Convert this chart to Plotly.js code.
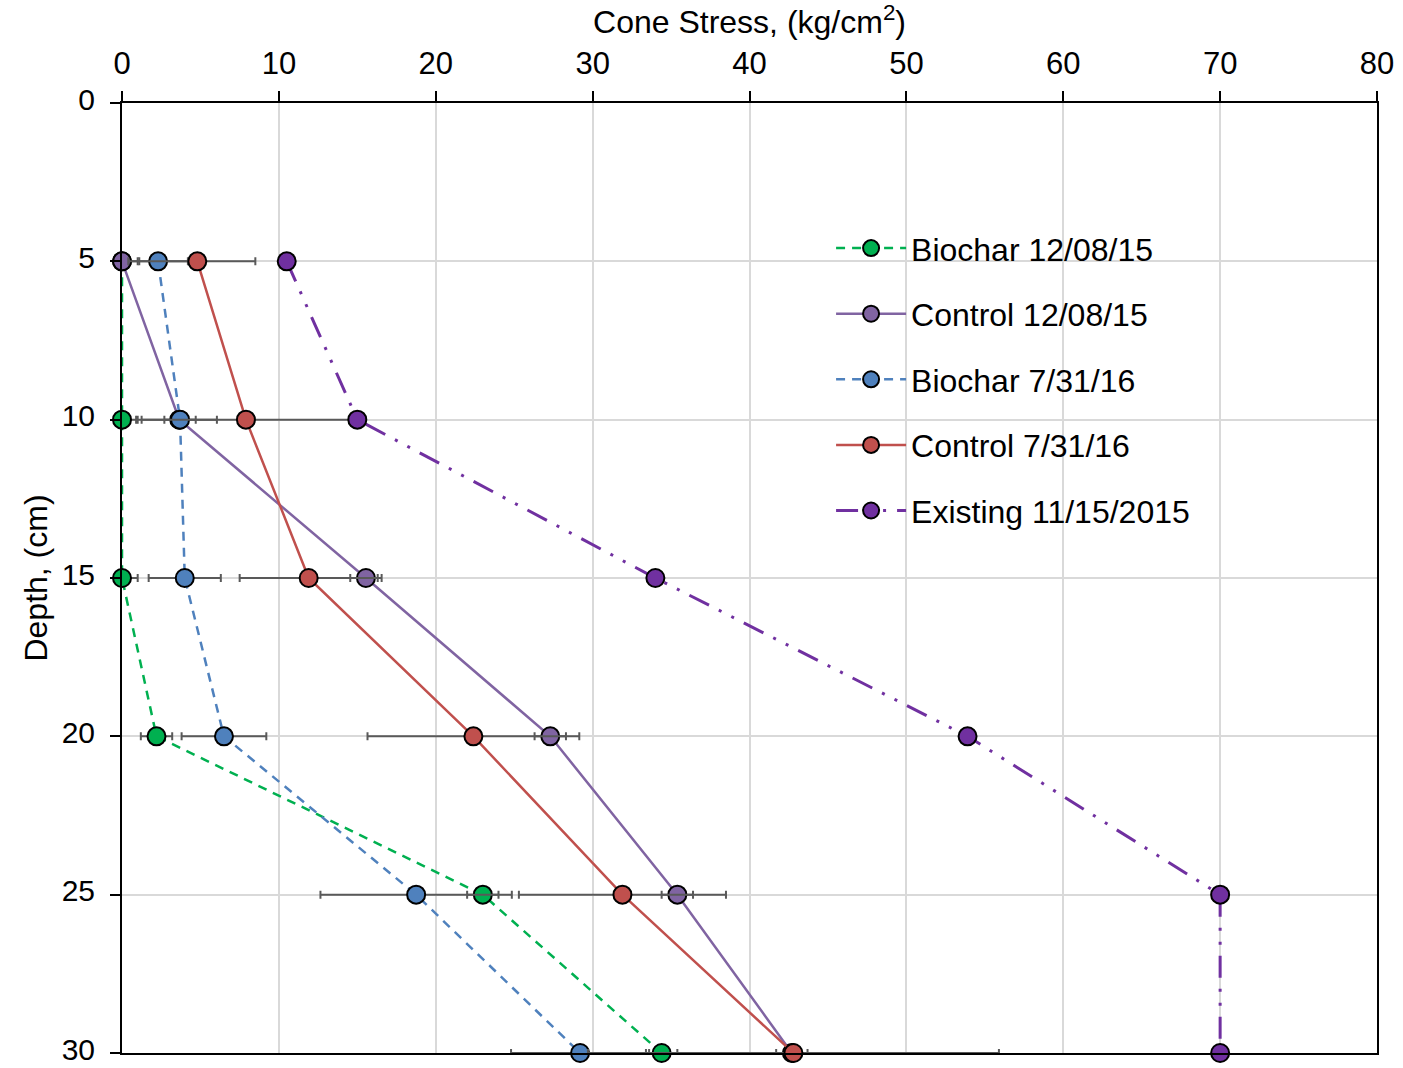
<!DOCTYPE html>
<html>
<head>
<meta charset="utf-8">
<script src="https://cdn.plot.ly/plotly-3.0.1.min.js"></script>
<style>html,body{margin:0;padding:0;background:#fff;}#chart{width:1403px;height:1068px;}</style>
</head>
<body>
<div id="chart"></div>
<script>
// Depth (cm)
var depth = [5, 10, 15, 20, 25, 30];

// Cone stress (kg/cm2) values and error (±)
var biochar1208 = [0, 0, 0, 2.2, 23.0, 34.4];
var biochar1208Err = [1.0, 1.0, 1.0, 1.0, 1.0, 1.0];

var control1208 = [0, 3.65, 15.55, 27.3, 35.4, 42.7];
var control1208Err = [0, 2.4, 1.0, 1.0, 1.0, 1.0];

var biochar0731 = [2.3, 3.7, 4.0, 6.5, 18.75, 29.2];
var biochar0731Err = [1.9, 1.0, 2.3, 2.7, 6.1, 4.4];

var control0731 = [4.8, 7.9, 11.9, 22.4, 31.9, 42.8];
var control0731Err = [3.7, 7.0, 4.4, 6.75, 6.6, 13.1];

var existing = [10.5, 15.0, 34.0, 53.9, 70.0, 70.0];

var names = ["Biochar 12/08/15", "Control 12/08/15", "Biochar 7/31/16", "Control 7/31/16", "Existing 11/15/2015"];
var xTicks = [0, 10, 20, 30, 40, 50, 60, 70, 80];
var yTicks = [0, 5, 10, 15, 20, 25, 30];

var FONT = "Liberation Sans, Arial, sans-serif";
var errStyle = function (arr) {
  return {type: "data", array: arr, visible: true, color: "#595959", thickness: 2, width: 4};
};
function mk(x, err, name, color, dash, width) {
  var t = {
    x: x, y: depth, name: name, type: "scatter", mode: "lines+markers",
    legendgroup: name, cliponaxis: false,
    line: {color: color, width: width, dash: dash},
    marker: {symbol: "circle", size: 18, color: color, line: {color: "#000", width: 2}}
  };
  if (err) t.error_x = errStyle(err);
  return t;
}

var traces = [
  mk(biochar1208, biochar1208Err, names[0], "#00b050", "9px,7px", 2.5),
  mk(control1208, control1208Err, names[1], "#8064a2", "solid", 2.5),
  mk(biochar0731, biochar0731Err, names[2], "#4f81bd", "9px,7px", 2.5),
  mk(control0731, control0731Err, names[3], "#c0504d", "solid", 2.5),
  mk(existing, null, names[4], "#7030a0", "22px,11px,3px,11px,3px,11px", 3)
];

var layout = {
  width: 1403, height: 1068,
  paper_bgcolor: "#fff", plot_bgcolor: "#fff",
  margin: {l: 122, r: 26, t: 103, b: 15},
  font: {family: FONT, size: 32, color: "#000"},
  showlegend: true,
  legend: {
    x: 0.565, y: 0.876, xanchor: "left", yanchor: "top",
    bgcolor: "rgba(0,0,0,0)", font: {family: FONT, size: 32, color: "#000"},
    traceorder: "grouped", tracegroupgap: 21, itemwidth: 70
  },
  xaxis: {
    side: "top", range: [0, 80], tickvals: xTicks, ticktext: xTicks.map(String),
    showgrid: true, gridcolor: "#d9d9d9", gridwidth: 2, zeroline: false,
    showline: true, linecolor: "#000", linewidth: 2, mirror: true,
    ticks: "outside", ticklen: 10, tickwidth: 2, tickcolor: "#000",
    ticklabelstandoff: 5, ticklabeloverflow: "allow",
    tickfont: {family: FONT, size: 31},
    title: {text: "Cone Stress, (kg/cm<sup>2</sup>)", font: {family: FONT, size: 32}, standoff: 4}
  },
  yaxis: {
    range: [30, 0], tickvals: yTicks, ticktext: yTicks.map(String),
    showgrid: true, gridcolor: "#d9d9d9", gridwidth: 2, zeroline: false,
    showline: true, linecolor: "#000", linewidth: 2, mirror: true,
    ticks: "outside", ticklen: 10, tickwidth: 2, tickcolor: "#000",
    ticklabelstandoff: 9, ticklabeloverflow: "allow", ticklabelshift: 4,
    tickfont: {family: FONT, size: 30},
    title: {text: "Depth, (cm)", font: {family: FONT, size: 32}, standoff: 4}
  }
};

Plotly.newPlot("chart", traces, layout, {displayModeBar: false, staticPlot: true});
</script>
</body>
</html>
